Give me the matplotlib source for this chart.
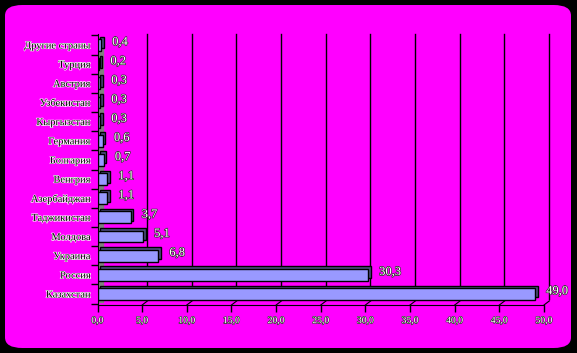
import numpy as np
import matplotlib
matplotlib.use("Agg")
import matplotlib.pyplot as plt
import matplotlib.patheffects as pe
from matplotlib.patches import FancyBboxPatch
from matplotlib.transforms import ScaledTranslation

# data (bottom to top)
countries = ["Казахстан", "Россия", "Украина", "Молдова", "Таджикистан",
             "Азербайджан", "Венгрия", "Болгария", "Германия", "Кыргызстан",
             "Узбекистан", "Австрия", "Турция", "Другие страны"]
shares = [49.0, 30.3, 6.8, 5.1, 3.7, 1.1, 1.1, 0.7, 0.6, 0.3, 0.3, 0.3, 0.2, 0.4]
xticks = [0, 5, 10, 15, 20, 25, 30, 35, 40, 45, 50]

plt.rcParams['font.family'] = ['Liberation Serif', 'DejaVu Serif']

fig = plt.figure(figsize=(5.77, 3.53), dpi=100, facecolor="black")

# magenta rounded background
bg = FancyBboxPatch((5 / 577, 5 / 353), 566 / 577, 343 / 353,
                    boxstyle="round,pad=0,rounding_size=0.03",
                    transform=fig.transFigure, facecolor="#FF00FF",
                    edgecolor="none", zorder=-10)
fig.patches.append(bg)

ax = fig.add_axes([97.5 / 577, 1 - 305 / 353, 446.5 / 577, 271 / 353])
ax.set_facecolor("none")
ax.set_zorder(1)
y = np.arange(len(countries))
ymax = len(countries) - 1 + 0.574
ax.set_xlim(0, 50)
ax.set_ylim(-0.574, ymax)

# back grid lines (3d look, shifted right/up)
back = ax.transData + ScaledTranslation(5 / 100, 4 / 100, fig.dpi_scale_trans)
for v in xticks[1:]:
    ax.plot([v, v], [-0.45, ymax - 0.2], color="black",
            lw=1, transform=back, zorder=1, clip_on=False)
    # little diagonal floor line from front tick to back grid line
    ax.plot([v, v + 0.6], [-0.574, -0.36], color="black", lw=0.8, zorder=1,
            clip_on=False)
# left wall
ax.axvspan(0, 0.6, ymin=0.01, ymax=0.985, color="#808080", zorder=1.5)

# bars with depth
depth = ax.transData + ScaledTranslation(2.5 / 100, 2.5 / 100, fig.dpi_scale_trans)
ax.barh(y, shares, height=0.62, color="#4C4C80", edgecolor="black", lw=1,
        transform=depth, zorder=2)
ax.barh(y, shares, height=0.62, color="#9999FF", edgecolor="black", lw=1,
        zorder=3)

for yi, v in zip(y, shares):
    ax.annotate(f"{v:.1f}".replace(".", ","), (v, yi), xytext=(8, 2),
                textcoords="offset points", va="center", ha="left",
                fontsize=9, color="white",
                path_effects=[pe.withStroke(linewidth=1, foreground="#303030")])

ax.set_yticks(y)
ax.set_yticklabels(countries, fontsize=7.5, color="black",
                   path_effects=[pe.withStroke(linewidth=0.8, foreground="white")])
ax.set_yticks(np.arange(-0.5, len(countries)), minor=True)
ax.tick_params(axis="y", which="major", length=0, pad=5)
ax.tick_params(axis="y", which="minor", length=5, width=1, color="black")

ax.set_xticks(xticks)
ax.set_xticklabels([f"{t:.1f}".replace(".", ",") for t in xticks], fontsize=7,
                   color="white",
                   path_effects=[pe.withStroke(linewidth=0.8, foreground="#303030")])
ax.tick_params(axis="x", length=5, width=1, color="black", pad=3)

for s in ["top", "right"]:
    ax.spines[s].set_visible(False)
ax.spines["left"].set_color("black")
ax.spines["bottom"].set_color("black")

fig.savefig("out.png", dpi=100, facecolor="black")
